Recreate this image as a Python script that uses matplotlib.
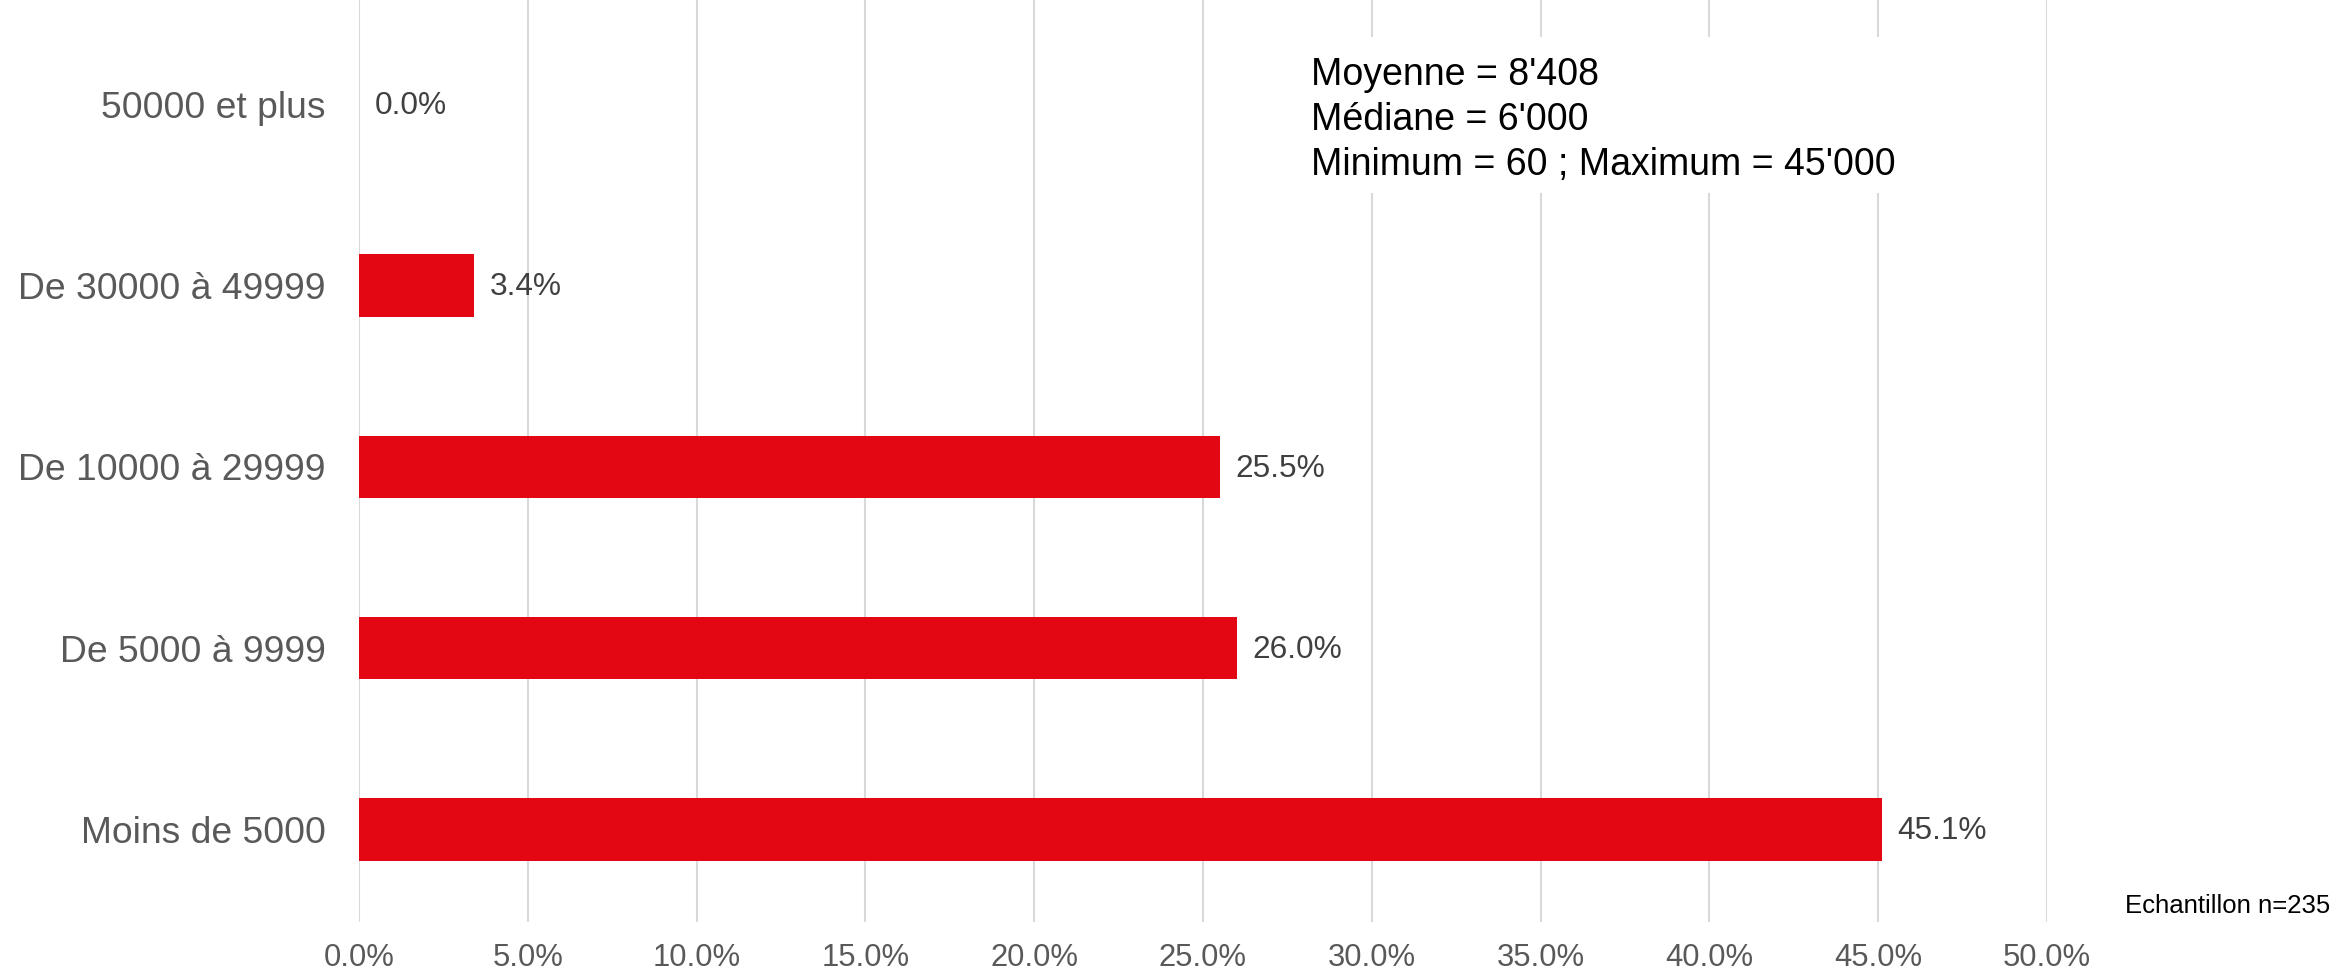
import matplotlib
matplotlib.use("Agg")
import matplotlib.pyplot as plt
from matplotlib.patches import Rectangle

plt.rcParams['font.family'] = ['Liberation Sans', 'DejaVu Sans']

# data
categories = ["Moins de 5000", "De 5000 à 9999", "De 10000 à 29999",
              "De 30000 à 49999", "50000 et plus"]
values = [45.1, 26.0, 25.5, 3.4, 0.0]
xticks = [0, 5, 10, 15, 20, 25, 30, 35, 40, 45, 50]
stats_lines = ["Moyenne = 8'408", "Médiane = 6'000",
               "Minimum = 60 ; Maximum = 45'000"]
sample_note = "Echantillon n=235"

W, H = 2338, 974
fig = plt.figure(figsize=(W / 100, H / 100), dpi=100)
ax = fig.add_axes([359 / W, 1 - 922 / H, 1688 / W, 922 / H])

ypos = list(range(len(categories)))
bars = ax.barh(ypos, values, height=0.345, color='#E30613', zorder=2)

for y, v in zip(ypos, values):
    ax.annotate(f"{v:.1f}%", xy=(v, y), xytext=(11.5, -1.2),
                textcoords='offset points', va='center', ha='left',
                fontsize=22.8, color='#404040')

ax.set_xlim(0, 50)
ax.set_ylim(-0.51, 4.575)
ax.set_xticks(xticks)
ax.set_xticklabels([f"{t:.1f}%" for t in xticks])
ax.set_yticks(ypos)
ax.set_yticklabels(categories)
ax.tick_params(axis='x', length=0, pad=15, labelsize=22.3, labelcolor='#595959')
ax.tick_params(axis='y', length=0, pad=24, labelsize=26.8, labelcolor='#595959')

ax.grid(axis='x', color='#D9D9D9', linewidth=1.5, zorder=0)
ax.grid(axis='y', visible=False)
ax.set_axisbelow(True)
for s in ax.spines.values():
    s.set_visible(False)

# white box behind stats text
fig.patches.append(Rectangle((1290 / W, 1 - 193 / H), 625 / W, 156 / H,
                             transform=fig.transFigure, facecolor='white',
                             edgecolor='none', zorder=1))
for i, line in enumerate(stats_lines):
    fig.text(1311 / W, 1 - (85 + 45 * i) / H, line, ha='left', va='baseline',
             fontsize=27, color='black', zorder=3)

fig.text(2330 / W, 1 - 913 / H, sample_note, ha='right', va='baseline',
         fontsize=18.5, color='black')

fig.savefig("out.png", dpi=100, facecolor='white')
